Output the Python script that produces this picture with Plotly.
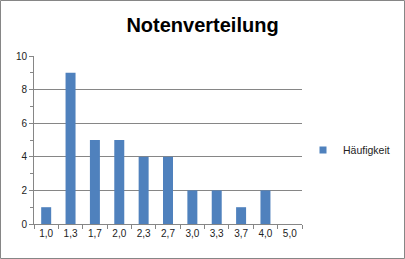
import plotly.graph_objects as go

categories = ["1,0", "1,3", "1,7", "2,0", "2,3", "2,7", "3,0", "3,3", "3,7", "4,0", "5,0"]
counts = [1, 9, 5, 5, 4, 4, 2, 2, 1, 2, 0]
series_name = "Häufigkeit"
title_text = "Notenverteilung"

W, H = 405, 259
L, R, T, B = 34, 103, 56, 35
pw, ph = W - L - R, H - T - B
bar_color = "#4F81BD"

fig = go.Figure()
fig.add_trace(go.Bar(x=categories, y=counts, name=series_name, showlegend=False,
                     marker=dict(color=bar_color, line=dict(width=0))))
# legend entry with a small square key
fig.add_trace(go.Scatter(x=[None], y=[None], mode="markers", name=series_name,
                         marker=dict(symbol="square", size=7, color=bar_color)))

fig.update_layout(
    width=W, height=H,
    margin=dict(l=L, r=R, t=T, b=B, autoexpand=False),
    paper_bgcolor="white", plot_bgcolor="white",
    bargap=0.59,
    font=dict(family="Liberation Sans, Arial", size=10, color="#222"),
    title=dict(text="<b>" + title_text + "</b>", x=0.5, xanchor="center",
               y=1 - 25 / H, yanchor="middle",
               font=dict(size=20, color="#000", family="Liberation Sans, Arial")),
    showlegend=True,
    legend=dict(xref="container", yref="container", x=303 / W, xanchor="left",
                y=1 - 150 / H, yanchor="middle",
                font=dict(size=10.5, color="#222"), bgcolor="rgba(0,0,0,0)",
                itemwidth=30),
)
fig.update_xaxes(
    type="category", showline=True, linecolor="#868686", linewidth=1,
    ticks="outside", tickson="boundaries", ticklen=4, tickcolor="#868686",
    tickangle=0, showgrid=False, fixedrange=True, automargin=False,
)
fig.update_yaxes(
    range=[0, 10], dtick=2, showline=True, linecolor="#868686", linewidth=1,
    ticks="outside", ticklen=4, tickcolor="#868686", automargin=False,
    showgrid=True, gridcolor="#868686", gridwidth=1, zeroline=False,
    minor=dict(dtick=1, ticks="outside", ticklen=3, tickcolor="#868686", showgrid=False),
)
fig.add_shape(type="rect", xref="paper", yref="paper",
              x0=(0.5 - L) / pw, x1=(W - 0.5 - L) / pw,
              y0=(H - B - (H - 0.5)) / ph, y1=(H - B - 0.5) / ph,
              line=dict(color="#868686", width=1), layer="below")

fig.write_html("out.html")
